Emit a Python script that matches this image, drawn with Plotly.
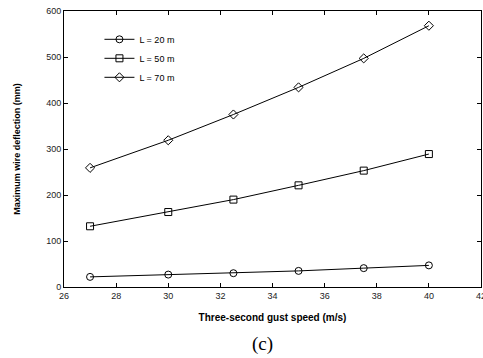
import plotly.graph_objects as go

speed = [27, 30, 32.5, 35, 37.5, 40]
L20 = [22, 27, 30, 35, 41, 47]
L50 = [132, 163, 190, 221, 253, 289]
L70 = [259, 319, 375, 434, 497, 568]
names = ["L = 20 m", "L = 50 m", "L = 70 m"]
symbols = ["circle-open", "square-open", "diamond-open"]

fig = go.Figure()
for ys, nm, sym in zip([L20, L50, L70], names, symbols):
    fig.add_trace(go.Scatter(x=speed, y=ys, name=nm, mode="lines+markers",
                             line=dict(color="black", width=1),
                             marker=dict(symbol=sym, size=7, color="black",
                                         line=dict(width=1, color="black"))))

axis_common = dict(showline=True, mirror="ticks", linecolor="black", linewidth=1,
                   ticks="inside", ticklen=4, tickcolor="black", showgrid=False,
                   automargin=False, ticklabeloverflow="allow",
                   zeroline=False, tickfont=dict(family="Liberation Sans, Arial", size=9, color="#222"))

fig.update_layout(
    width=483, height=358,
    margin=dict(l=64, r=2, t=11, b=71),
    paper_bgcolor="white", plot_bgcolor="white",
    xaxis=dict(range=[26, 42], dtick=2, **axis_common,
               title=dict(text="<b>Three-second gust speed (m/s)</b>", standoff=14,
                          font=dict(family="Liberation Sans, Arial", size=10, color="black"))),
    yaxis=dict(range=[0, 600], dtick=100, **axis_common,
               title=dict(text="<b>Maximum wire deflection (mm)</b>", standoff=24,
                          font=dict(family="Liberation Sans, Arial", size=9, color="black"))),
    legend=dict(x=0.085, y=0.95, xanchor="left", yanchor="top",
                bgcolor="rgba(0,0,0,0)", font=dict(family="Liberation Sans, Arial", size=9, color="black"),
                tracegroupgap=0, itemwidth=30),
    showlegend=True,
    annotations=[dict(text="(c)", x=0.475, y=-0.205, xref="paper", yref="paper",
                      showarrow=False, xanchor="center", yanchor="middle",
                      font=dict(family="Liberation Serif, Times New Roman", size=19, color="black"))],
)

fig.write_html("out.html")
